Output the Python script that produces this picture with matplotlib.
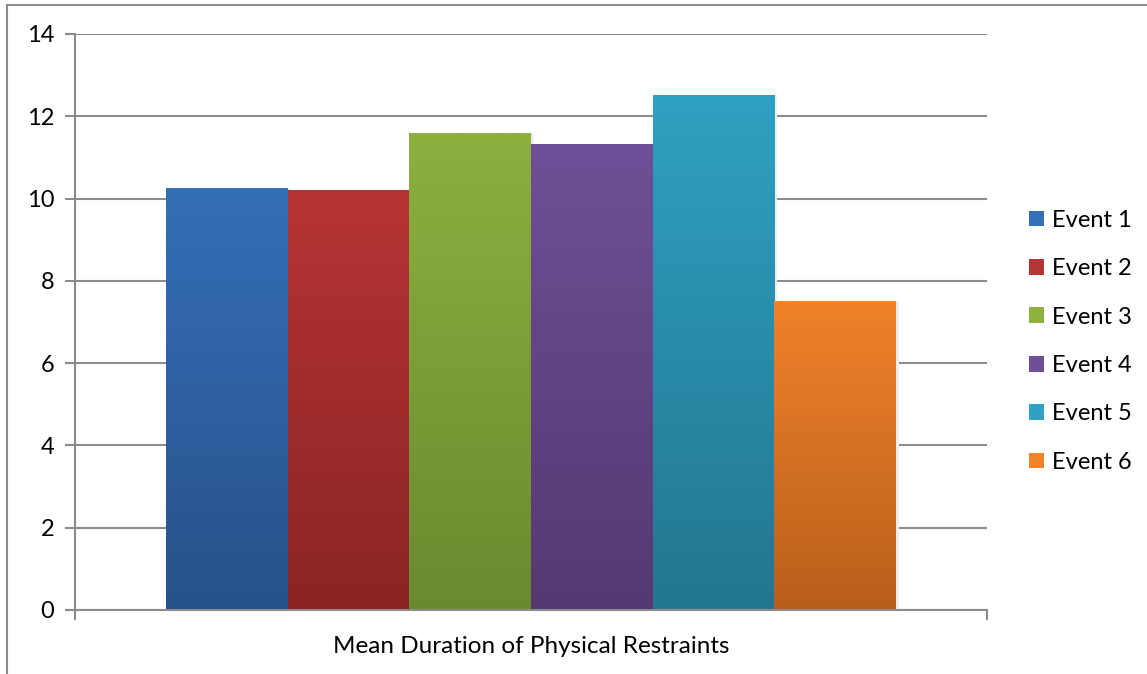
import numpy as np
import matplotlib
matplotlib.use("Agg")
import matplotlib.pyplot as plt
from matplotlib.colors import LinearSegmentedColormap
from matplotlib.patches import Rectangle

category = "Mean Duration of Physical Restraints"
series = ["Event 1", "Event 2", "Event 3", "Event 4", "Event 5", "Event 6"]
values = [10.26, 10.21, 11.59, 11.33, 12.52, 7.51]
top_colors = ["#356fb7", "#b73434", "#8db03f", "#6f4f97", "#2fa1c1", "#f0822a"]
bottom_colors = ["#27518a", "#8a2424", "#6a8a2f", "#533971", "#237690", "#b85f1c"]
yticks = [0, 2, 4, 6, 8, 10, 12, 14]

plt.rcParams['font.family'] = ['Lato', 'DejaVu Sans']

W, H = 1147, 674
fig = plt.figure(figsize=(W / 100, H / 100), dpi=100)
ax = fig.add_axes([75 / W, (H - 610) / H, (987 - 75) / W, (610 - 34) / H])

grid_c = "#8c8c8c"
n = len(series)
group_w = 0.8
bw = group_w / n
handles = []
for i, (name, v) in enumerate(zip(series, values)):
    x = -group_w / 2 + bw * (i + 0.5)
    # faint shadow
    ax.bar(x + 0.003, v, width=bw, bottom=0, color="#eeeeee", zorder=2, linewidth=0)
    bar = ax.bar(x, v, width=bw, color=top_colors[i], linewidth=0, zorder=3, label=name)[0]
    cmap = LinearSegmentedColormap.from_list(f"g{i}", [bottom_colors[i], top_colors[i]])
    grad = np.linspace(0, 1, 256).reshape(-1, 1)
    im = ax.imshow(grad, cmap=cmap, aspect="auto", origin="lower",
                   extent=[x - bw / 2, x + bw / 2, 0, v], zorder=4)
    im.set_clip_path(bar)
    handles.append(bar)

ax.set_xlim(-0.5, 0.5)
ax.set_ylim(0, 14)
ax.set_yticks(yticks)
ax.set_yticklabels([str(t) for t in yticks])
ax.yaxis.grid(True, color=grid_c, linewidth=1.5, zorder=1)
ax.set_axisbelow(True)

ax.set_xticks([0])
ax.set_xticklabels([category])
ax.set_xticks([-0.5, 0.5], minor=True)
ax.tick_params(axis="x", which="major", length=0, pad=19, labelsize=17.5)
ax.tick_params(axis="x", which="minor", length=7, width=1.5, color=grid_c, direction="out")
ax.tick_params(axis="y", length=7, width=1.5, color=grid_c, direction="out", pad=8, labelsize=17)

for s in ["top", "right"]:
    ax.spines[s].set_visible(False)
for s in ["left", "bottom"]:
    ax.spines[s].set_color(grid_c)
    ax.spines[s].set_linewidth(1.5)
    ax.spines[s].set_zorder(5)

leg = fig.legend(handles=handles, labels=series, loc="upper left",
                 bbox_to_anchor=(1017 / W, 1 - 198 / H), frameon=False,
                 fontsize=17, handlelength=0.65, handleheight=0.65,
                 handletextpad=0.35, labelspacing=1.16, borderpad=0)

# outer chart border (left and top visible)
fig.patches.append(Rectangle((7 / W, -0.1), 1.2, (H - 5) / H + 0.1,
                             transform=fig.transFigure, fill=False,
                             edgecolor="#8c8c8c", linewidth=1.5))

fig.savefig("out.png", dpi=100)
